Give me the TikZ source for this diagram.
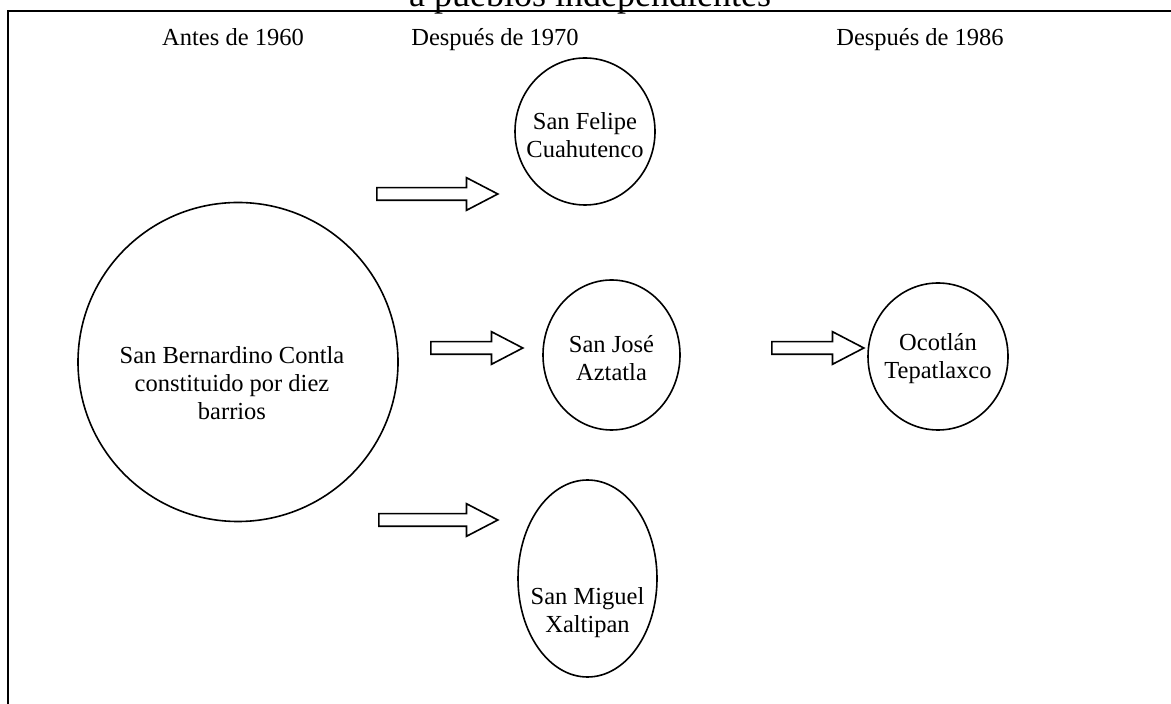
\documentclass[tikz,border=0pt]{standalone}
\usepackage{fontspec}
\setmainfont{Liberation Serif}
\usetikzlibrary{shapes.geometric,shapes.arrows}

\begin{document}
\begin{tikzpicture}[x=0.5pt,y=-0.5pt]
		\tikzset{
			region/.style={draw, ellipse, line width=0.8pt, inner sep=0pt},
			townname/.style={align=center, inner sep=0pt, font=\fontsize{12.25}{14}\selectfont},
			header/.style={anchor=base, inner sep=0pt, font=\fontsize{12.25}{14}\selectfont},
			blockarrow/.style={draw, single arrow, line width=0.8pt, inner xsep=0pt, inner ysep=2.75pt, minimum height=46pt, single arrow head extend=5pt, single arrow tip angle=55, anchor=tail}
		}
		\useasboundingbox (0,0) rectangle (1171,704);
		% frame, cut by the page
		\draw [line width=1.4pt] (8,720) -- (8,11) -- (1190,11);
		\node [anchor=base, inner sep=0pt, font=\fontsize{18}{20}\selectfont] (title) at (590,7) {a pueblos independientes};
		% column headers
		\node [header] (antes) at (233,46) {Antes de 1960};
		\node [header] (despues70) at (495,46) {Después de 1970};
		\node [header] (despues86) at (920,46) {Después de 1986};
		% towns
		\node [region, minimum width=160pt, minimum height=159.5pt] (contla) at (238,362) {};
		\node [townname] (contlatxt) at (232,383) {San Bernardino Contla\\constituido por diez\\barrios};
		\node [region, minimum width=70pt, minimum height=73.5pt] (felipe) at (585,131.5) {};
		\node [townname] (felipetxt) at (felipe.center) [yshift=-2pt] {San Felipe\\Cuahutenco};
		\node [region, minimum width=68.5pt, minimum height=75pt] (jose) at (611.5,355) {};
		\node [townname] (josetxt) at (jose.center) [yshift=-1.5pt] {San José\\Aztatla};
		\node [region, minimum width=69.5pt, minimum height=98.5pt] (miguel) at (587.5,578.5) {};
		\node [townname] (migueltxt) at (587.5,613) {San Miguel\\Xaltipan};
		\node [region, minimum width=70pt, minimum height=73.5pt] (ocotlan) at (938,356.5) {};
		\node [townname] (ocotlantxt) at (ocotlan.center) [yshift=-1pt] {Ocotlán\\Tepatlaxco};
		% block arrows
		\node [blockarrow, minimum height=60.5pt] (tofelipe) at (376,194) {};
		\node [blockarrow] (tojose) at (430,348) {};
		\node [blockarrow, minimum height=59.5pt] (tomiguel) at (378,520) {};
		\node [blockarrow] (toocotlan) at (771,348) {};
\end{tikzpicture}
\end{document}
